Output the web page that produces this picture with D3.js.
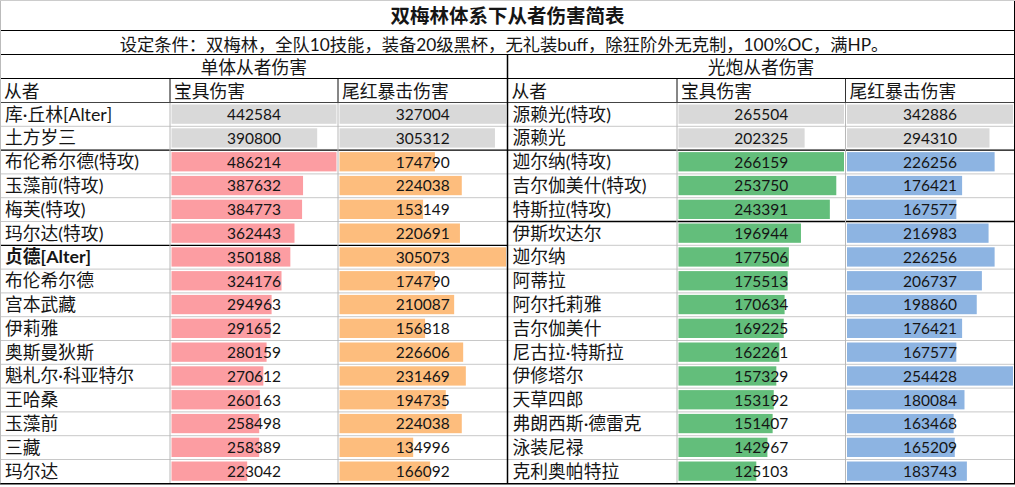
<!DOCTYPE html>
<html><head><meta charset="utf-8">
<script src="https://cdn.jsdelivr.net/npm/d3@7"></script>
<style>
html,body{margin:0;padding:0;background:#fff;}
svg{display:block;}
text{font-family:Lato,"Noto Sans CJK SC",sans-serif;fill:#151515;}
</style></head><body>
<svg id="c" width="1015" height="487"></svg>
<script>
const title = "双梅林体系下从者伤害简表";
const subtitle = "设定条件：双梅林，全队10技能，装备20级黑杯，无礼装buff，除狂阶外无克制，100%OC，满HP。";
const groupTitles = ["单体从者伤害", "光炮从者伤害"];
const colHeaders = ["从者", "宝具伤害", "尾红暴击伤害"];

const leftNames = ["库·丘林[Alter]","土方岁三","布伦希尔德(特攻)","玉藻前(特攻)","梅芙(特攻)","玛尔达(特攻)","贞德[Alter]","布伦希尔德","宫本武藏","伊莉雅","奥斯曼狄斯","魁札尔·科亚特尔","王哈桑","玉藻前","三藏","玛尔达"];
const leftNP   = [442584,390800,486214,387632,384773,362443,350188,324176,294963,291652,280159,270612,260163,258498,258389,223042];
const leftCrit = [327004,305312,174790,224038,153149,220691,305073,174790,210087,156818,226606,231469,194735,224038,134996,166092];
const leftGroup = [0,0,1,1,1,1,1,1,1,1,1,1,1,1,1,1];
const leftBreaks = [2,6];

const rightNames = ["源赖光(特攻)","源赖光","迦尔纳(特攻)","吉尔伽美什(特攻)","特斯拉(特攻)","伊斯坎达尔","迦尔纳","阿蒂拉","阿尔托莉雅","吉尔伽美什","尼古拉·特斯拉","伊修塔尔","天草四郎","弗朗西斯·德雷克","泳装尼禄","克利奥帕特拉"];
const rightNP   = [265504,202325,266159,253750,243391,196944,177506,175513,170634,169225,162261,157329,153192,151407,142967,125103];
const rightCrit = [342886,294310,226256,176421,167577,216983,226256,206737,198860,176421,167577,254428,180084,163468,165209,183743];
const rightGroup = [0,0,1,1,1,1,1,1,1,1,1,1,1,1,1,1];
const rightBreaks = [2,5];

const grayColor = "#d9d9d9";
const leftNPColor = "#fc9da2", leftCritColor = "#fdbd7d";
const rightNPColor = "#63be7b", rightCritColor = "#8db4e2";

const svg = d3.select("#c");
const W = 1015;
const rowTop = 102.5, rowH = 23.8, nRows = 16;
const yBottom = rowTop + rowH*nRows;

const tables = [
  {x0:0, cols:[0,170,338,507.5], names:leftNames, np:leftNP, crit:leftCrit, group:leftGroup, breaks:leftBreaks, colors:[leftNPColor,leftCritColor], bold:[6]},
  {x0:507.5, cols:[507.5,677,845.5,1014.5], names:rightNames, np:rightNP, crit:rightCrit, group:rightGroup, breaks:rightBreaks, colors:[rightNPColor,rightCritColor], bold:[]}
];

const y = d3.scaleLinear().domain([0,nRows]).range([rowTop,yBottom]);

tables.forEach((t,ti)=>{
  const g = svg.append("g");
  [t.np, t.crit].forEach((vals,ci)=>{
    const cx0 = t.cols[ci+1]+1.5, cx1 = t.cols[ci+2]-1.5;
    [0,1].forEach(gr=>{
      const idx = d3.range(nRows).filter(i=>t.group[i]===gr);
      const sc = d3.scaleLinear().domain([0,d3.max(idx,i=>vals[i])]).range([0,cx1-cx0]);
      g.selectAll(null).data(idx).enter().append("rect")
        .attr("x",cx0).attr("y",i=>y(i)+2).attr("height",rowH-4.5)
        .attr("width",i=>sc(vals[i]))
        .attr("fill",gr===0?grayColor:t.colors[ci]);
    });
    g.selectAll(null).data(vals).enter().append("text")
      .attr("x",(t.cols[ci+1]+t.cols[ci+2])/2).attr("y",(d,i)=>y(i)+rowH/2+5.5)
      .attr("text-anchor","middle").style("font-size","15.5px").text(d=>d);
  });
  g.selectAll(null).data(t.names).enter().append("text")
    .attr("x",t.cols[0]+5).attr("y",(d,i)=>y(i)+rowH/2+6.2)
    .style("font-size","17.8px")
    .style("font-weight",(d,i)=>t.bold.includes(i)?"bold":"normal")
    .text(d=>d);
  // headers
  g.append("text").attr("x",(t.cols[0]+t.cols[3])/2).attr("y",74).attr("text-anchor","middle")
    .style("font-size","17.8px").text(groupTitles[ti]);
  colHeaders.forEach((h,ci)=>{
    g.append("text").attr("x",t.cols[ci]+4).attr("y",97.5).style("font-size","17.8px").text(h);
  });
  // grid
  const lines = g.append("g");
  d3.range(1,nRows).forEach(i=>{
    const dark = t.breaks.includes(i);
    lines.append("line").attr("x1",t.cols[0]).attr("x2",t.cols[3]).attr("y1",y(i)).attr("y2",y(i))
      .attr("stroke",dark?"#000":"#c8c8c8").attr("stroke-width",dark?1.3:1);
  });
  [1,2].forEach(ci=>{
    lines.append("line").attr("x1",t.cols[ci]).attr("x2",t.cols[ci]).attr("y1",78).attr("y2",yBottom)
      .attr("stroke","#b8b8b8").attr("stroke-width",1);
    lines.append("line").attr("x1",t.cols[ci]).attr("x2",t.cols[ci]).attr("y1",78).attr("y2",rowTop)
      .attr("stroke","#333").attr("stroke-width",1);
  });
  lines.append("line").attr("x1",t.cols[0]).attr("x2",t.cols[3]).attr("y1",rowTop).attr("y2",rowTop)
    .attr("stroke","#444").attr("stroke-width",1);
});

// title rows
svg.append("text").attr("x",W/2).attr("y",23).attr("text-anchor","middle")
  .style("font-size","19.5px").style("font-weight","bold").text(title);
svg.append("text").attr("x",504).attr("y",50.5).attr("text-anchor","middle")
  .style("font-size","17.3px").text(subtitle);

const frame = svg.append("g").attr("stroke","#000").attr("fill","none");
[30.5,54.5,78.5].forEach(yy=>frame.append("line").attr("x1",0).attr("x2",W).attr("y1",yy).attr("y2",yy).attr("stroke-width",1.2));
frame.append("line").attr("x1",507.5).attr("x2",507.5).attr("y1",54.5).attr("y2",yBottom).attr("stroke-width",1.5);
frame.append("line").attr("x1",0).attr("x2",W).attr("y1",yBottom+0.5).attr("y2",yBottom+0.5).attr("stroke-width",1.5);
frame.append("line").attr("x1",0.5).attr("x2",0.5).attr("y1",0).attr("y2",yBottom).attr("stroke","#bbb");
frame.append("line").attr("x1",1014.5).attr("x2",1014.5).attr("y1",0).attr("y2",yBottom).attr("stroke-width",1);
frame.append("line").attr("x1",0).attr("x2",W).attr("y1",0.5).attr("y2",0.5).attr("stroke","#ccc");
</script>
</body></html>
